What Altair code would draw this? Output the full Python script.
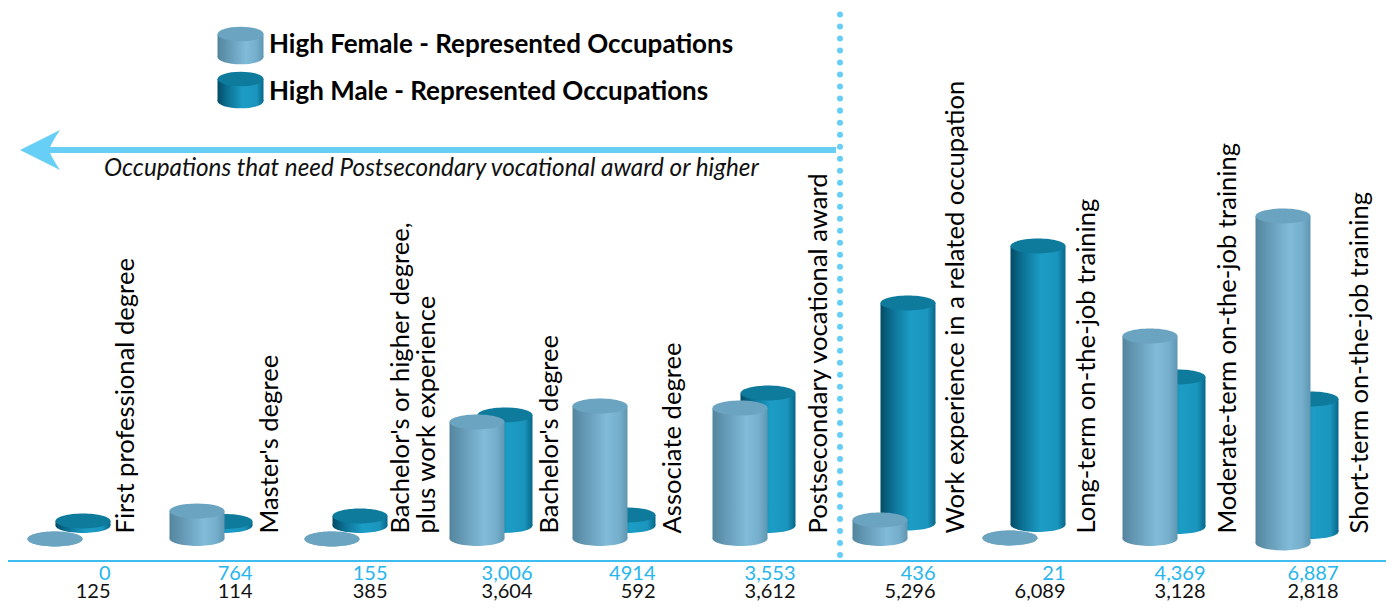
import altair as alt
import pandas as pd

# Reading positions along the horizontal (px-like units) and drawn heights above the axis line
occupations = ["First professional degree", "Master's degree",
               "Bachelor's or higher degree,\nplus work experience", "Bachelor's degree",
               "Associate degree", "Postsecondary vocational award",
               "Work experience in a related occupation", "Long-term on-the-job training",
               "Moderate-term on-the-job training", "Short-term on-the-job training"]
female_labels = ["0", "764", "155", "3,006", "4914", "3,553", "436", "21", "4,369", "6,887"]
male_labels = ["125", "114", "385", "3,604", "592", "3,612", "5,296", "6,089", "3,128", "2,818"]
group_pos = [55, 197, 332, 477, 600, 740, 880, 1010, 1150, 1283]
female_top = [22, 50, 22, 139, 155, 153, 41, 23, 225, 345]
female_base = [22, 22.5, 22, 22.5, 22.5, 22.5, 22.5, 23, 22.5, 18]
male_top = [40, 39.5, 45, 146, 46, 168, 258, 315, 184, 162]
male_base = [35.5, 35.5, 35.5, 35.5, 35.5, 35.5, 38, 36.5, 34.5, 29.5]
label_pos = [134, 278, 409, 558, 681, 827, 964, 1095, 1236, 1368]

F_STOPS = [(0, "#53859d"), (0.3, "#6a9fbb"), (0.62, "#80bbd9"), (0.85, "#74aecb"), (1, "#5f97b2")]
M_STOPS = [(0, "#034c66"), (0.22, "#0c7194"), (0.55, "#1c9dc6"), (0.85, "#1a95bd"), (1, "#07678a")]
F_TOP, M_TOP = "#6ba4c0", "#0e7b9c"
LINE = "#3dbdf0"
ARROW = "#67cff5"
FONT = "Lato"

ELLIPSE = "M-1,0A1,0.27 0 1 0 1,0A1,0.27 0 1 0 -1,0Z"
ELLIPSE_L = "M-1,0A1,0.32 0 1 0 1,0A1,0.32 0 1 0 -1,0Z"
HEAD = "M-1,0L1,-1Q0.6,-0.4 0.5,-0.12L0.5,0.12Q0.6,0.4 1,1Z"

XS = alt.Scale(domain=[8, 1386], range=[0, 1378])
YS = alt.Scale(domain=[-41, 553], range=[594, 0])
X = alt.X("c:Q", scale=XS, axis=None)
Y = alt.Y("top:Q", scale=YS, axis=None)


def grad(stops):
    return alt.Gradient(gradient="linear", x1=0, x2=1, y1=0, y2=0,
                        stops=[alt.GradientStop(offset=o, color=c) for o, c in stops])


def cylinder(df, stops, cap, half=27.5, path=ELLIPSE):
    base = alt.Chart(df)
    g = grad(stops)
    bottom = base.mark_point(shape=path, size=(2 * half) ** 2, filled=True, fill=g, opacity=1).encode(
        x=X, y=alt.Y("base:Q", scale=YS, axis=None))
    body = base.transform_calculate(l=f"datum.c-{half}", r=f"datum.c+{half}").mark_rect(fill=g).encode(
        x=alt.X("l:Q", scale=XS, axis=None), x2="r:Q",
        y=Y, y2="base:Q")
    top = base.mark_point(shape=path, size=(2 * half) ** 2, filled=True, fill=cap, opacity=1).encode(x=X, y=Y)
    return [bottom, body, top]


female = pd.DataFrame({"c": group_pos, "top": female_top, "base": female_base})
male = pd.DataFrame({"c": [p + 28 for p in group_pos], "top": male_top, "base": male_base})
legend_f = pd.DataFrame({"c": [240.5], "top": [527], "base": [504]})
legend_m = pd.DataFrame({"c": [240.5], "top": [482], "base": [460]})

labels = pd.DataFrame({"c": label_pos, "t": occupations, "top": [27.5] * 10})
values = pd.DataFrame({"c": [p + 55.5 for p in group_pos], "f": female_labels, "m": male_labels,
                       "yf": [-19] * 10, "ym": [-37] * 10})

axis_line = alt.Chart(pd.DataFrame({"c": [8], "c2": [1386], "top": [0]})).mark_rule(
    color=LINE, strokeWidth=2).encode(x=X, x2="c2:Q", y=Y)
divider = alt.Chart(pd.DataFrame({"c": [840], "top": [6], "b": [549]})).mark_rule(
    color=ARROW, strokeWidth=6, strokeCap="round", strokeDash=[0.01, 12]).encode(x=X, y=Y, y2="b:Q")
arrow_shaft = alt.Chart(pd.DataFrame({"c": [45], "c2": [836], "top": [411]})).mark_rule(
    color=ARROW, strokeWidth=6).encode(x=X, x2="c2:Q", y=Y)
arrow_head = alt.Chart(pd.DataFrame({"c": [40], "top": [411]})).mark_point(
    shape=HEAD, size=1600, filled=True, fill=ARROW, opacity=1).encode(x=X, y=Y)

label_text = alt.Chart(labels).mark_text(
    angle=270, align="left", baseline="alphabetic", font=FONT, fontSize=25.6, lineBreak="\n",
    lineHeight=26, color="#000000").encode(x=X, y=Y, text="t:N")
female_text = alt.Chart(values).mark_text(align="right", baseline="alphabetic", font=FONT, fontSize=20,
                                          color="#27b5ee").encode(
    x=X, y=alt.Y("yf:Q", scale=YS, axis=None), text="f:N")
male_text = alt.Chart(values).mark_text(align="right", baseline="alphabetic", font=FONT, fontSize=20,
                                        color="#111111").encode(
    x=X, y=alt.Y("ym:Q", scale=YS, axis=None), text="m:N")

legend_text = alt.Chart(pd.DataFrame({
    "c": [269, 269],
    "top": [516, 469],
    "t": ["High Female - Represented Occupations", "High Male - Represented Occupations"]
})).mark_text(align="left", baseline="middle", font=FONT, fontSize=26, fontWeight=700,
              color="#000000").encode(x=X, y=Y, text="t:N")
note = alt.Chart(pd.DataFrame({
    "c": [104], "top": [392], "t": ["Occupations that need Postsecondary vocational award or higher"]
})).mark_text(align="left", baseline="middle", font=FONT, fontSize=24.3, fontStyle="italic",
              color="#111111").encode(x=X, y=Y, text="t:N")

layers = (cylinder(male, M_STOPS, M_TOP) + cylinder(female, F_STOPS, F_TOP)
          + cylinder(legend_f, F_STOPS, F_TOP, 23, ELLIPSE_L)
          + cylinder(legend_m, M_STOPS, M_TOP, 23, ELLIPSE_L)
          + [axis_line, divider, arrow_shaft, arrow_head, label_text, female_text, male_text, legend_text, note])

chart = alt.layer(*layers).properties(
    width=1378, height=594, padding=0, autosize=alt.AutoSizeParams(type="none"), background="#ffffff"
).configure_view(stroke=None)

chart.save("out.html", embed_options={"renderer": "svg", "actions": False})
